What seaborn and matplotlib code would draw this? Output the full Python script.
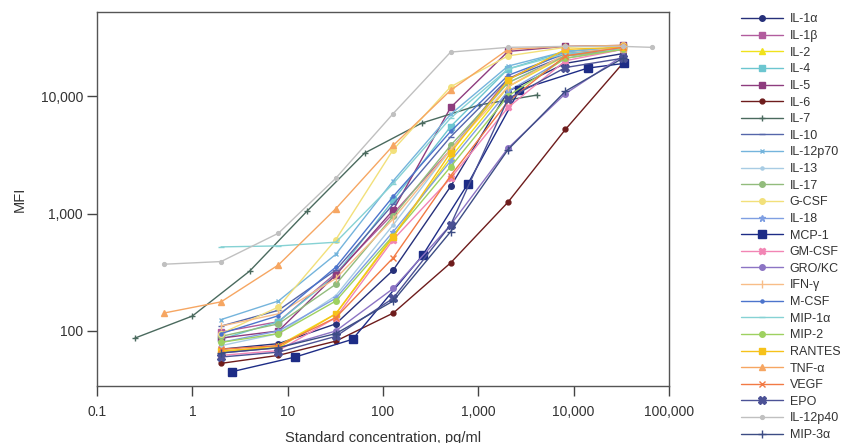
import numpy as np
import pandas as pd
import matplotlib
matplotlib.use("Agg")
import matplotlib.pyplot as plt
import seaborn as sns
from matplotlib.ticker import FuncFormatter, FixedLocator, NullLocator

# standard concentrations (pg/ml), 4-fold dilution series
conc_std = [2, 8, 32, 128, 512, 2048, 8192, 32768]
conc_il7 = [0.25, 1, 4, 16, 64, 256, 1024, 4096]
conc_mcp1 = [2.6, 12, 48, 260, 780, 2700, 14000, 34000]
conc_tnfa = [0.5, 2, 8, 32, 128, 512, 2048, 8192, 32768]
conc_il12p40 = [0.5, 2, 8, 32, 128, 512, 2048, 8192, 32768, 65536]

# MFI readings per analyte
il1a = [70, 78, 115, 330, 1700, 11000, 19000, 23000]
il1b = [98, 120, 310, 1000, 3500, 14000, 24000, 26000]
il2 = [66, 75, 140, 650, 3000, 12000, 22000, 25000]
il4 = [85, 120, 300, 1300, 5500, 17000, 24000, 26000]
il5 = [87, 100, 300, 1070, 8000, 24000, 26500, 27000]
il6 = [53, 62, 82, 142, 380, 1250, 5200, 19000]
il7 = [87, 134, 324, 1050, 3270, 5900, 8400, 10200]
il10 = [110, 150, 330, 1200, 4500, 14000, 22000, 25000]
il12p70 = [125, 180, 450, 1900, 7000, 18000, 24000, 26000]
il13 = [75, 95, 200, 800, 3500, 13000, 22000, 25000]
il17 = [90, 115, 250, 950, 3800, 13000, 22000, 25000]
gcsf = [95, 160, 600, 3500, 12000, 22000, 26000, 27000]
il18 = [80, 100, 190, 700, 2800, 11000, 21000, 25000]
mcp1 = [45, 60, 85, 440, 1800, 11300, 17300, 19000]
gmcsf = [62, 68, 130, 600, 2000, 8000, 20000, 25000]
grokc = [65, 72, 100, 230, 800, 3600, 10500, 22000]
ifng = [110, 140, 280, 900, 3500, 12000, 23000, 26000]
mcsf = [95, 135, 350, 1400, 5000, 15000, 23000, 25000]
mip1a = [520, 530, 570, 1800, 6500, 17000, 23000, 25000]
mip2 = [80, 95, 180, 650, 2500, 10000, 21000, 25000]
rantes = [68, 72, 140, 630, 3300, 13700, 25000, 26000]
tnfa = [142, 177, 365, 1100, 3800, 11200, 25000, 26500, 27000]
vegf = [70, 75, 130, 420, 2100, 9000, 22000, 26000]
epo = [60, 66, 90, 190, 800, 9500, 17500, 21000]
il12p40 = [370, 390, 680, 2000, 7100, 23700, 26000, 26500, 26500, 26000]
mip3a = [65, 72, 95, 180, 700, 3500, 11000, 21000]

analytes = ["IL-1α", "IL-1β", "IL-2", "IL-4", "IL-5", "IL-6", "IL-7", "IL-10",
            "IL-12p70", "IL-13", "IL-17", "G-CSF", "IL-18", "MCP-1", "GM-CSF",
            "GRO/KC", "IFN-γ", "M-CSF", "MIP-1α", "MIP-2", "RANTES", "TNF-α",
            "VEGF", "EPO", "IL-12p40", "MIP-3α"]
series = [
    (conc_std, il1a), (conc_std, il1b), (conc_std, il2), (conc_std, il4),
    (conc_std, il5), (conc_std, il6), (conc_il7, il7), (conc_std, il10),
    (conc_std, il12p70), (conc_std, il13), (conc_std, il17), (conc_std, gcsf),
    (conc_std, il18), (conc_mcp1, mcp1), (conc_std, gmcsf), (conc_std, grokc),
    (conc_std, ifng), (conc_std, mcsf), (conc_std, mip1a), (conc_std, mip2),
    (conc_std, rantes), (conc_tnfa, tnfa), (conc_std, vegf), (conc_std, epo),
    (conc_il12p40, il12p40), (conc_std, mip3a),
]

colors = ["#26307a", "#b25c9e", "#f0e21c", "#6cc6d0", "#8e3c7e", "#6e1c1c",
          "#4a6a5e", "#5566aa", "#74b4dc", "#a8cce4", "#92bc7c", "#f2e07a",
          "#7f9fe2", "#1d2c86", "#f285b4", "#8c74c4", "#f8bd88", "#4c74cc",
          "#86d2d4", "#9ed160", "#f6c21a", "#f6a662", "#f27a44", "#4c5296",
          "#c0c0c0", "#3c4c84"]
markers = ["o", "s", "^", "s", "s", "o", "+", "_", "x", ".", "o", "o",
           "*", "s", "X", "o", "|", ".", "_", "o", "s", "^", "x", "X",
           ".", "+"]
msizes = [4, 4, 4, 4, 4, 3.5, 4.5, 4.5, 3.5, 4.5, 4, 4,
          4.5, 5.5, 5, 4, 5.5, 4.5, 4.5, 4, 5, 4.5, 4.5, 5.5, 5.5, 5.5]

sns.set_style("white")
plt.rcParams["font.family"] = ["Liberation Sans", "DejaVu Sans"]

fig = plt.figure(figsize=(8.41, 4.43), dpi=100)
ax = fig.add_axes([97 / 841, 1 - 386 / 443, 572 / 841, 374 / 443])

for name, (xs, ys), c, m, ms in zip(analytes, series, colors, markers, msizes):
    d = pd.DataFrame({"conc": xs, "MFI": ys})
    sns.lineplot(data=d, x="conc", y="MFI", color=c, marker=m, markersize=ms,
                 markeredgewidth=1.0, markeredgecolor=c, linewidth=1.0,
                 label=name, estimator=None, ax=ax)

ax.set_xscale("log")
ax.set_yscale("log")
ax.set_xlim(0.1, 100000)
ax.set_ylim(34, 52000)

fmt = FuncFormatter(lambda v, p: "0.1" if v < 1 else f"{v:,.0f}")
ax.xaxis.set_major_locator(FixedLocator([0.1, 1, 10, 100, 1000, 10000, 100000]))
ax.yaxis.set_major_locator(FixedLocator([100, 1000, 10000]))
ax.xaxis.set_major_formatter(fmt)
ax.yaxis.set_major_formatter(fmt)
ax.xaxis.set_minor_locator(NullLocator())
ax.yaxis.set_minor_locator(NullLocator())

for s in ax.spines.values():
    s.set_color("#555555")
    s.set_linewidth(1.0)
ax.tick_params(axis="both", which="major", direction="out", length=7,
               width=1.0, color="#444444", labelsize=10, labelcolor="#333333",
               bottom=True, left=True)
ax.tick_params(axis="x", pad=7)
ax.tick_params(axis="y", pad=3)

ax.set_xlabel("Standard concentration, pg/ml", fontsize=10.5, color="#333333", labelpad=8)
ax.set_ylabel("MFI", fontsize=10.5, color="#333333", labelpad=10)

ax.legend(loc="upper left", bbox_to_anchor=(0.875, 0.981),
          bbox_transform=fig.transFigure, frameon=False,
          fontsize=9, labelspacing=0.37, handlelength=3.4,
          handletextpad=0.5, borderaxespad=0.0, labelcolor="#333333")

fig.savefig("out.png", dpi=100)
